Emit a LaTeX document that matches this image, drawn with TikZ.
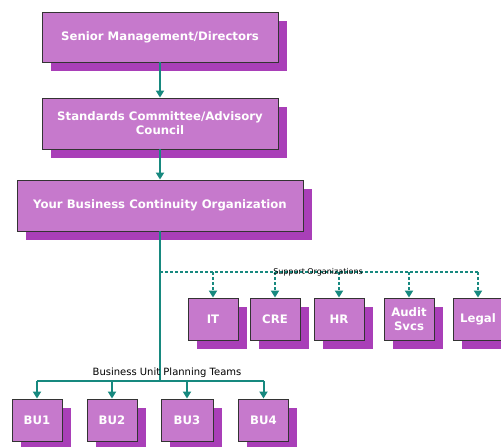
\documentclass[tikz,border=0pt]{standalone}
\usepackage{fontspec}
\setmainfont{DejaVu Sans}
\usetikzlibrary{arrows.meta,shadows}
\definecolor{boxc}{HTML}{C679CC}
\definecolor{shadc}{HTML}{A93FB8}
\definecolor{edgec}{HTML}{333333}
\definecolor{teal}{HTML}{17897F}
\tikzset{
  box/.style={draw=edgec, line width=0.9pt, fill=boxc, text=white, font=\bfseries\fontsize{11.7}{14}\selectfont,
    align=center, inner sep=0pt,
    general shadow={fill=shadc, shadow xshift=8.5pt, shadow yshift=-8.5pt}},
  conn/.style={draw=teal, line width=2pt, -{Triangle[width=8pt,length=7pt]}},
  plain/.style={draw=teal, line width=2pt},
  dconn/.style={draw=teal, line width=1.8pt, dash pattern=on 3pt off 2pt, -{Triangle[width=8pt,length=7pt]}},
  dplain/.style={draw=teal, line width=1.8pt, dash pattern=on 3pt off 2pt},
  lbl/.style={text=black, inner sep=0pt, anchor=base}
}
\begin{document}
\begin{tikzpicture}[x=1pt,y=-1pt]
\clip (0,0) rectangle (501,447);
\fill[white] (0,0) rectangle (501,447);
% top boxes
\node[box, minimum width=236pt, minimum height=50pt] (sen) at (160,37) {Senior Management/Directors};
\node[box, minimum width=236pt, minimum height=51pt] (std) at (160,123.5) {Standards Committee/Advisory\\Council};
\node[box, minimum width=286pt, minimum height=51pt] (ybc) at (160,205.5) {Your Business Continuity Organization};
% support boxes
\node[box, minimum width=50pt, minimum height=42pt] (it) at (213,319) {IT};
\node[box, minimum width=50pt, minimum height=42pt] (cre) at (275,319) {CRE};
\node[box, minimum width=50pt, minimum height=42pt] (hr) at (339,319) {HR};
\node[box, minimum width=50pt, minimum height=42pt] (aud) at (409,319) {Audit\\Svcs};
\node[box, minimum width=50pt, minimum height=42pt] (leg) at (478,319) {Legal};
% BU boxes
\node[box, minimum width=50pt, minimum height=42pt] (bu1) at (37,420) {BU1};
\node[box, minimum width=50pt, minimum height=42pt] (bu2) at (112,420) {BU2};
\node[box, minimum width=52pt, minimum height=42pt] (bu3) at (187,420) {BU3};
\node[box, minimum width=50pt, minimum height=42pt] (bu4) at (263.5,420) {BU4};
% junctions
\coordinate (sj) at (160,272);
\coordinate (se) at (478,272);
\coordinate (bj) at (160,381);
\coordinate (bl) at (37,381);
\coordinate (br) at (263.5,381);
% connectors
\draw[conn] (sen) -- (std);
\draw[conn] (std) -- (ybc);
\draw[plain] (ybc.south) -- (bj);
\draw[plain] (bl) -- (br);
\draw[conn] (bl) -- (bu1);
\draw[conn] (bj -| bu2) -- (bu2);
\draw[conn] (bj -| bu3) -- (bu3);
\draw[conn] (br) -- (bu4);
\draw[dplain] (sj) -- (se);
\draw[dconn] (sj -| it) -- (it);
\draw[dconn] (sj -| cre) -- (cre);
\draw[dconn] (sj -| hr) -- (hr);
\draw[dconn] (sj -| aud) -- (aud);
\draw[dconn] (se) -- (leg);
% labels
\node[lbl, font=\fontsize{8}{9}\selectfont] (slab) at (318,274.5) {Support Organizations};
\node[lbl, font=\fontsize{10}{11}\selectfont] (blab) at (167,375.5) {Business Unit Planning Teams};
\end{tikzpicture}
\end{document}
